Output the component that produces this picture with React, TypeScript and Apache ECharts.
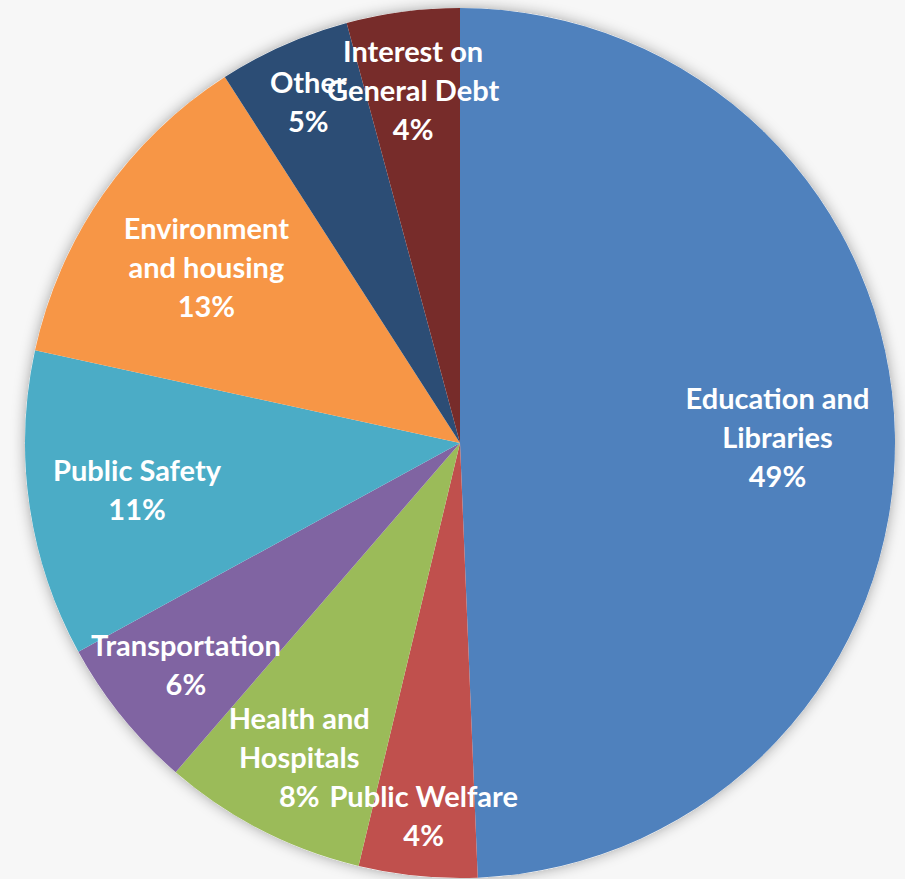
import React, { useEffect, useRef } from "react";
import * as echarts from "echarts";

const categories = [
  "Education and\nLibraries",
  "Public Welfare",
  "Health and\nHospitals",
  "Transportation",
  "Public Safety",
  "Environment\nand housing",
  "Other",
  "Interest on\nGeneral Debt",
];
const values = [49.4, 4.4, 7.6, 5.7, 11.4, 12.5, 4.9, 4.2];
const colors = ["#4F81BD", "#C0504D", "#9BBB59", "#8064A2", "#4BACC6", "#F79646", "#2C4D75", "#772C2A"];
// label distance from centre as a fraction of the radius (layout only)
const labelRadiusFactor = [0.73, 0.86, 0.81, 0.81, 0.75, 0.71, 0.86, 0.82];

const CX = 460;
const CY = 443;
const R = 435;

export default function App() {
  const ref = useRef<HTMLDivElement>(null);
  useEffect(() => {
    document.body.style.margin = "0";
    const chart = echarts.init(ref.current!, null, { renderer: "svg" });
    chart.setOption({
      animation: false,
      backgroundColor: "#f7f7f7",
      series: [
        {
          type: "pie",
          silent: true,
          center: [CX, CY],
          radius: R,
          label: { show: false },
          labelLine: { show: false },
          data: [{ value: 1, itemStyle: { color: "#ffffff", shadowBlur: 14, shadowColor: "rgba(0,0,0,0.35)" } }],
          z: 1,
        },
        {
          type: "pie",
          center: [CX, CY],
          radius: R,
          startAngle: 90,
          clockwise: true,
          z: 2,
          label: {
            show: true,
            position: "inside",
            color: "#ffffff",
            fontFamily: "Lato",
            fontWeight: "bold",
            fontSize: 29,
            lineHeight: 39,
            align: "center",
            formatter: (p: any) => `${p.name}\n${Math.round(p.value)}%`,
          },
          labelLine: { show: false },
          labelLayout: (p: any) => {
            const lr = p.labelRect;
            const lx = lr.x + lr.width / 2;
            const ly = lr.y + lr.height / 2;
            const dx = lx - CX;
            const dy = ly - CY;
            const d = Math.sqrt(dx * dx + dy * dy) || 1;
            const f = labelRadiusFactor[p.dataIndex];
            return { x: CX + (dx / d) * f * R, y: CY + (dy / d) * f * R };
          },
          itemStyle: { borderWidth: 0 },
          data: categories.map((c, i) => ({ name: c, value: values[i], itemStyle: { color: colors[i] } })),
        },
      ],
    });
    return () => chart.dispose();
  }, []);
  return <div ref={ref} style={{ width: 905, height: 879 }} />;
}
